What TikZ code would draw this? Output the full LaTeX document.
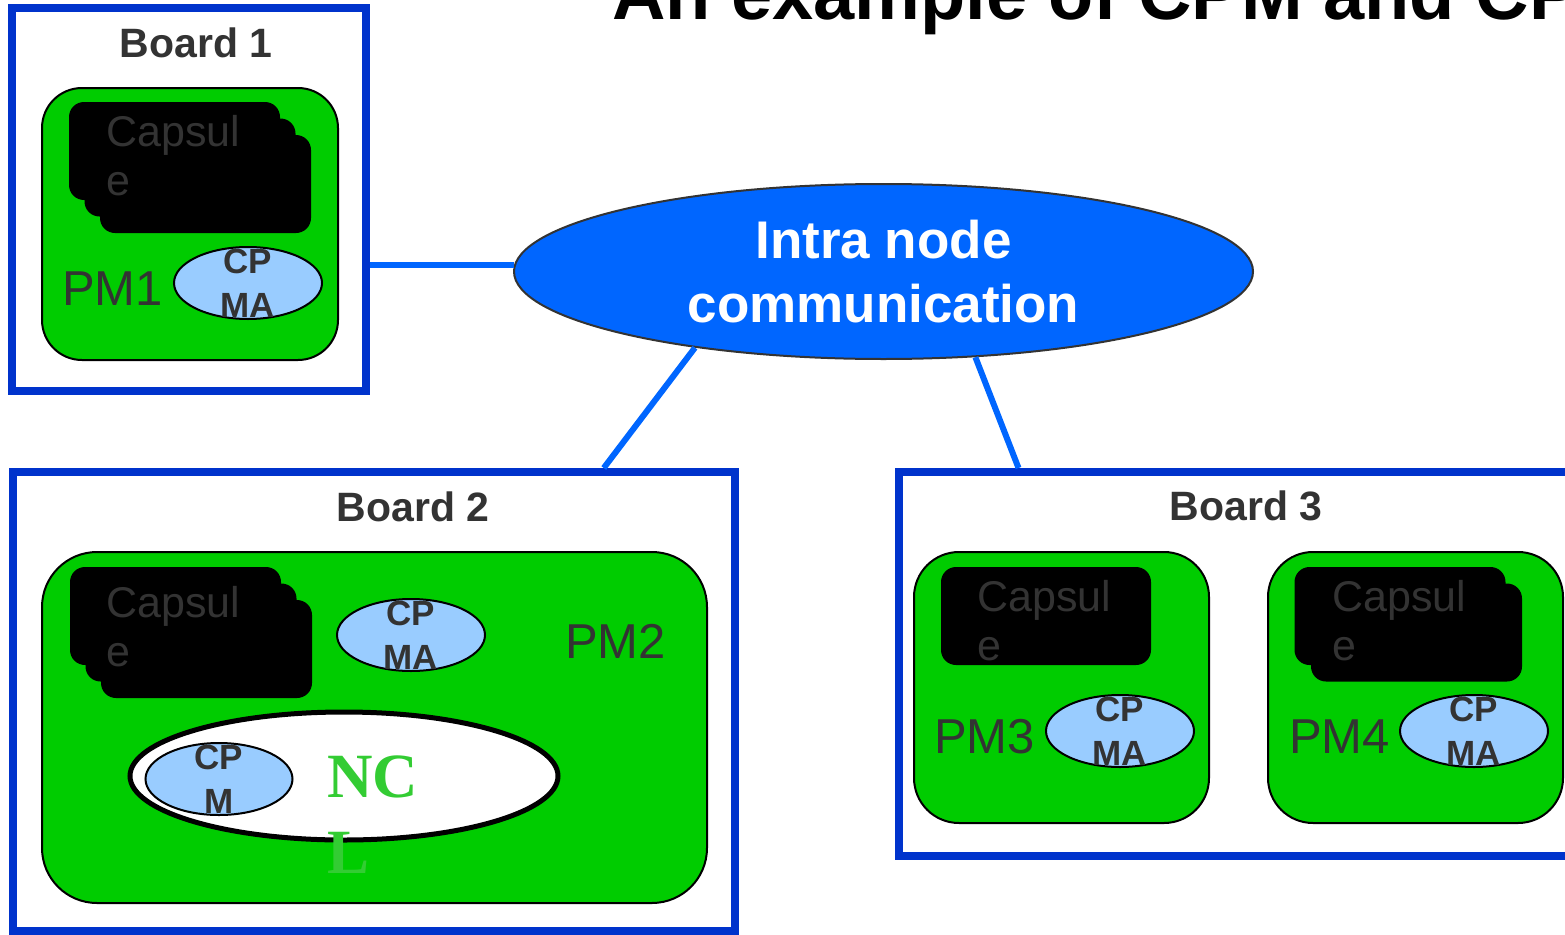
\documentclass[tikz,border=0pt]{standalone}
\usepackage{fontspec}
\setmainfont{Liberation Sans}
\newfontfamily\nclfont{Liberation Serif}
\usepackage{xcolor}
\usepackage{tikz}
\usetikzlibrary{shapes.geometric, positioning, calc}
\definecolor{boardblue}{RGB}{0, 51, 204}
\definecolor{linkblue}{RGB}{0, 102, 255}
\definecolor{pmgreen}{RGB}{0, 204, 0}
\definecolor{cpmablue}{RGB}{153, 204, 255}
\definecolor{textgray}{RGB}{51, 51, 51}
\definecolor{nclgreen}{RGB}{51, 204, 51}

\begin{document}
\begin{tikzpicture}[
    x=1pt, y=-1pt,
    board/.style={rectangle, draw=boardblue, line width=8pt, inner sep=0pt},
    boardtitle/.style={anchor=base, text=textgray, inner sep=0pt, font=\fontsize{41}{41}\selectfont\bfseries},
    pmbox/.style={rectangle, draw=black, line width=2pt, fill=pmgreen, inner sep=0pt},
    capsule/.style={rectangle, rounded corners=15pt, fill=black, minimum width=211pt, minimum height=98pt, inner sep=0pt},
    captext/.style={anchor=base west, align=left, text=textgray, inner sep=0pt, font=\fontsize{43}{49}\selectfont},
    pmlabel/.style={anchor=base west, text=textgray, inner sep=0pt, font=\fontsize{49}{49}\selectfont},
    cpma/.style={ellipse, draw=black, line width=2pt, fill=cpmablue, minimum width=148pt, minimum height=72pt, inner sep=0pt},
    cptext/.style={align=center, text=textgray, inner sep=0pt, font=\fontsize{35}{44}\selectfont\bfseries},
    link/.style={draw=linkblue, line width=6pt}
]
\clip (0,0) rectangle (1565,934);

\node[anchor=base west, inner sep=0pt, font=\fontsize{74}{74}\selectfont\bfseries] (title) at (612,20) {An example of CPM and CP};

% Boards
\node[board, minimum width=354pt, minimum height=383pt] (board1) at (189,199.5) {};
\node[board, minimum width=722pt, minimum height=459pt] (board2) at (373.75,701.5) {};
\node[board, minimum width=695pt, minimum height=384pt] (board3) at (1246.5,664) {};
\node[boardtitle] (title1) at (196,57) {Board 1};
\node[boardtitle] (title2) at (413,521) {Board 2};
\node[boardtitle] (title3) at (1246,520) {Board 3};

% Processor modules
\node[pmbox, rounded corners=40pt, minimum width=296pt, minimum height=272pt] (pm1) at (190,224) {};
\node[pmbox, rounded corners=55pt, minimum width=665pt, minimum height=351pt] (pm2) at (374.5,727.5) {};
\node[pmbox, rounded corners=45pt, minimum width=295pt, minimum height=271pt] (pm3) at (1061.5,687.5) {};
\node[pmbox, rounded corners=45pt, minimum width=295pt, minimum height=271pt] (pm4) at (1415.5,687.5) {};

% Capsules
\foreach \i/\x/\y in {a/174.5/151, b/190/167.5, c/205.5/184}
    \node[capsule] (cap1\i) at (\x,\y) {};
\foreach \i/\x/\y in {a/175.5/616, b/191/632.5, c/206.5/649}
    \node[capsule] (cap2\i) at (\x,\y) {};
\node[capsule, minimum width=210pt] (cap3a) at (1046,616) {};
\node[capsule] (cap4a) at (1400,616) {};
\node[capsule] (cap4b) at (1416.5,632.5) {};
\node[captext] (capt1) at (106,195) {Capsul\\e};
\node[captext] (capt2) at (106,666) {Capsul\\e};
\node[captext] (capt3) at (977,660) {Capsul\\e};
\node[captext] (capt4) at (1332,660) {Capsul\\e};

\node[pmlabel] (pmt1) at (62,305) {PM1};
\node[pmlabel] (pmt2) at (565,658) {PM2};
\node[pmlabel] (pmt3) at (934,753) {PM3};
\node[pmlabel] (pmt4) at (1289,753) {PM4};

\node[cpma, label={[cptext]center:{CP\\MA}}] (cpma1) at (248,283) {};
\node[cpma, label={[cptext]center:{CP\\MA}}] (cpma2) at (411,635) {};
\node[cpma, label={[cptext]center:{CP\\MA}}] (cpma3) at (1120,731) {};
\node[cpma, label={[cptext]center:{CP\\MA}}] (cpma4) at (1474,731) {};

% NCL
\node[ellipse, draw=black, line width=5pt, fill=white, minimum width=428pt, minimum height=128pt, inner sep=0pt] (nclbox) at (344,776) {};
\node[cpma, minimum width=147pt, label={[cptext]center:{CP\\M}}] (cpm) at (219,779) {};
\node[anchor=base west, align=left, inner sep=0pt, text=nclgreen, font=\nclfont\bfseries\fontsize{63}{76}\selectfont] (ncl) at (327,873) {NC\\L};

% Intra node communication
\node[ellipse, draw=textgray, line width=2pt, fill=linkblue, text=white, align=center, inner sep=0pt, minimum width=739pt, minimum height=175pt, font=\fontsize{53}{64}\selectfont\bfseries] (intra) at (883.5,271.5) {Intra node\\communication};

\draw[link] (board1.east |- intra.179) -- (intra.179);
\draw[link] (intra.202) -- ([xshift=230pt]board2.north);
\draw[link] (intra.-43) -- ([xshift=-228pt]board3.north);

\end{tikzpicture}
\end{document}
